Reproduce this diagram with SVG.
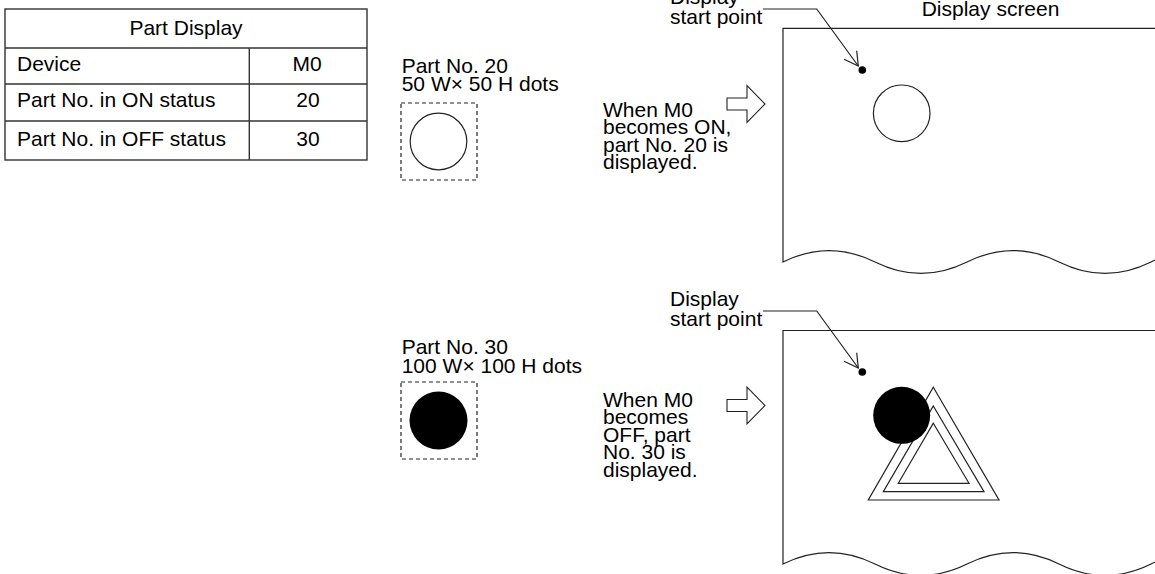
<svg xmlns="http://www.w3.org/2000/svg" width="1155" height="574" viewBox="0 0 1155 574">
<defs>
<style>
text{font-family:"Liberation Sans",Arial,sans-serif;font-size:21px;fill:#000}
.ln{fill:none;stroke:#222;stroke-width:1.2}
.tb{fill:#fff;stroke:#333;stroke-width:1.4}
.dash{fill:none;stroke:#222;stroke-width:1.2;stroke-dasharray:4 3}
.harrow{fill:#fff;stroke:#222;stroke-width:1.1;stroke-linejoin:miter}
.mid{text-anchor:middle}
</style>
</defs>
<rect width="1155" height="574" fill="#fff"/>

<g id="table">
<rect class="tb" x="5" y="9" width="362" height="151"/>
<line class="tb" x1="5" y1="48" x2="367" y2="48"/>
<line class="tb" x1="5" y1="84" x2="367" y2="84"/>
<line class="tb" x1="5" y1="121" x2="367" y2="121"/>
<line class="tb" x1="249.3" y1="48" x2="249.3" y2="160"/>
<text class="mid" x="186" y="34.5" font-size="22">Part Display</text>
<text x="17" y="71">Device</text>
<text class="mid" x="307" y="71">M0</text>
<text x="17" y="107">Part No. in ON status</text>
<text class="mid" x="308" y="107">20</text>
<text x="17" y="146">Part No. in OFF status</text>
<text class="mid" x="308" y="146">30</text>
</g>

<g id="part20">
<text x="401.7" y="73.3">Part No. 20</text>
<text x="401.7" y="91">50 W× 50 H dots</text>
<rect class="dash" x="401" y="103" width="76" height="77"/>
<circle class="ln" cx="438.5" cy="141.5" r="28.3"/>
</g>

<g id="part30">
<text x="401.7" y="354">Part No. 30</text>
<text x="401.7" y="372.5">100 W× 100 H dots</text>
<rect class="dash" x="401" y="382" width="76" height="77"/>
<circle cx="438.5" cy="420.5" r="29" fill="#000"/>
</g>

<g id="note-on">
<text x="603" y="116.5">When M0</text>
<text x="603" y="134">becomes ON,</text>
<text x="603" y="151.5">part No. 20 is</text>
<text x="603" y="169">displayed.</text>
</g>

<g id="note-off">
<text x="603" y="407">When M0</text>
<text x="603" y="424.4">becomes</text>
<text x="603" y="441.8">OFF, part</text>
<text x="603" y="459.2">No. 30 is</text>
<text x="603" y="476.6">displayed.</text>
</g>

<g id="screen-on">
<text x="921.7" y="16">Display screen</text>
<path class="ln" d="M1160,28.3 H783 V262 C813.4,246.9 844.6,246.9 875,262 S936.6,277.1 967,262 S1028.6,246.9 1059,262 S1120.6,277.1 1151,262 S1212.6,246.9 1243,262"/>
<circle class="ln" cx="901.7" cy="113.3" r="28.3"/>
<circle cx="862.3" cy="70" r="3.8" fill="#000"/>
</g>

<g id="screen-off">
<path class="ln" d="M1160,330.5 H783 V564 C813.4,548.9 844.6,548.9 875,564 S936.6,579.1 967,564 S1028.6,548.9 1059,564 S1120.6,579.1 1151,564 S1212.6,548.9 1243,564"/>
<polygon class="ln" points="933.3,387.3 999,500 868.3,500"/>
<polygon class="ln" points="933.3,406 984,491.7 883.3,491.7"/>
<polygon class="ln" points="933.3,423.3 969,483.3 898.3,483.3"/>
<circle cx="901.7" cy="415.3" r="28.5" fill="#000"/>
<circle cx="862.3" cy="372" r="3.8" fill="#000"/>
</g>

<g id="label-start-on">
<text x="670" y="4">Display</text>
<text x="670" y="23.5">start point</text>
</g>
<g id="label-start-off">
<text x="670" y="306">Display</text>
<text x="670" y="325.7">start point</text>
</g>

<g id="connectors">
<polygon class="harrow" points="727,98 747,98 747,85.5 765,104 747,122.5 747,110 727,110"/>
<polygon class="harrow" points="727,399.5 747,399.5 747,387 765,405.5 747,424 747,411.5 727,411.5"/>
<path class="ln" d="M763,9 H816.7 L858.3,66"/>
<path class="ln" d="M844,59.3 L858.3,66 L856.7,50.7"/>
<path class="ln" d="M763,311 H816.7 L858.3,368"/>
<path class="ln" d="M844,361.3 L858.3,368 L856.7,352.7"/>
</g>
</svg>
